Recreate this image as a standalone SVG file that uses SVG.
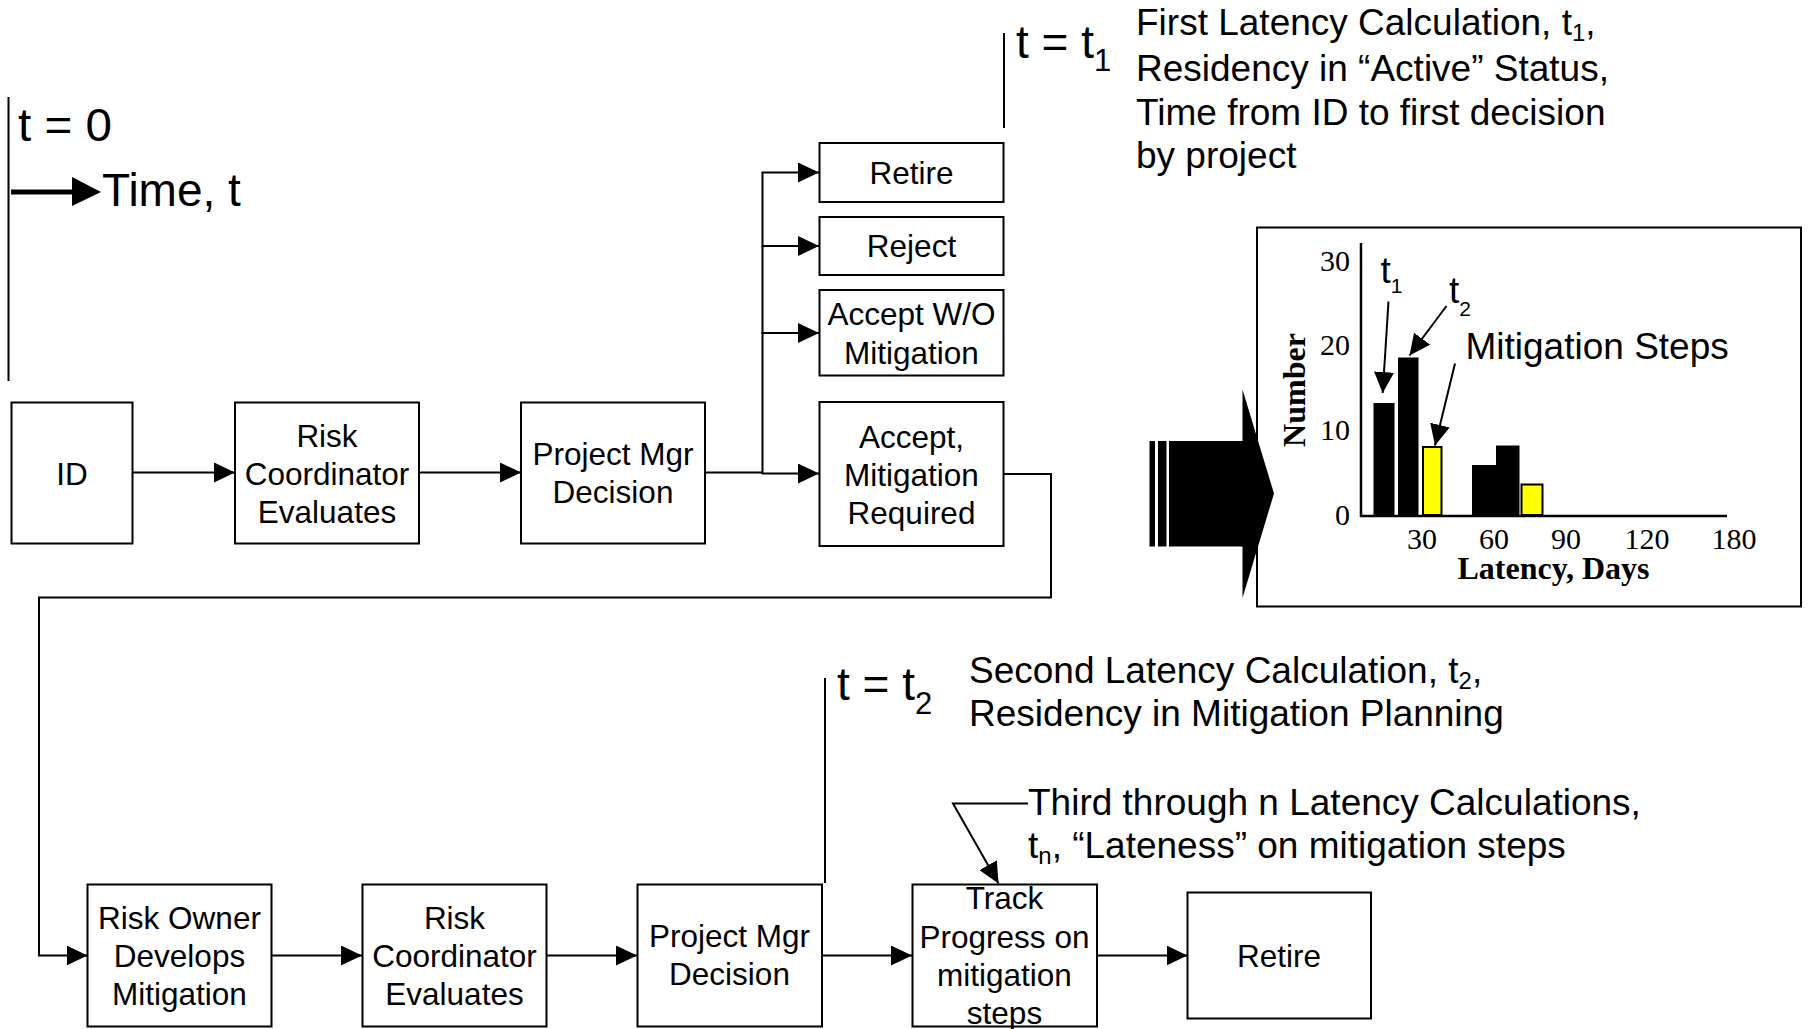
<svg xmlns="http://www.w3.org/2000/svg" width="1808" height="1029" viewBox="0 0 1808 1029">
<defs>
<style>
.box{fill:#fff;stroke:#000;stroke-width:2}
.lbl{font-family:"Liberation Sans",Arial,sans-serif;font-size:31.5px;text-anchor:middle;fill:#000}
.conn{fill:none;stroke:#000;stroke-width:2}
.tl{fill:none;stroke:#000;stroke-width:2}
.ann{font-family:"Liberation Sans",Arial,sans-serif;font-size:37px;fill:#000}
.big{font-family:"Liberation Sans",Arial,sans-serif;font-size:46px;fill:#000}
.ser{font-family:"Liberation Serif","Times New Roman",serif;font-size:30px;fill:#000}
.serb{font-family:"Liberation Serif","Times New Roman",serif;font-size:32px;font-weight:bold;fill:#000}
.bar{fill:#000;stroke:#000;stroke-width:1}
.ybar{fill:#ffff00;stroke:#000;stroke-width:2}
</style>
<marker id="ah" markerUnits="userSpaceOnUse" markerWidth="22" markerHeight="20" refX="21" refY="10" orient="auto">
<path d="M0,0 L21,10 L0,20 z" fill="#000"/>
</marker>
</defs>
<rect width="1808" height="1029" fill="#fff"/>

<!-- time markers -->
<g id="time-zero">
<line class="tl" x1="8.5" y1="97" x2="8.5" y2="381"/>
<text class="big" x="18" y="141" font-size="43" textLength="94" lengthAdjust="spacingAndGlyphs">t = 0</text>
<line x1="11" y1="192" x2="74" y2="192" stroke="#000" stroke-width="5"/>
<polygon points="72,177 101,192 72,206" fill="#000"/>
<text class="big" x="102" y="206" font-size="48.5">Time, t</text>
</g>

<g id="time-t1">
<line class="tl" x1="1004" y1="33" x2="1004" y2="128"/>
<text class="big" x="1016" y="58">t = t<tspan dy="12.7" font-size="31">1</tspan></text>
<text class="ann" x="1136" y="35">First Latency Calculation, t<tspan font-size="24" dy="6">1</tspan><tspan dy="-6">,</tspan></text>
<text class="ann" x="1136" y="80.5">Residency in “Active” Status,</text>
<text class="ann" x="1136" y="124.5">Time from ID to first decision</text>
<text class="ann" x="1136" y="168">by project</text>
</g>

<g id="time-t2">
<line class="tl" x1="825" y1="678" x2="825" y2="883"/>
<text class="big" x="837" y="700">t = t<tspan dy="14" font-size="31">2</tspan></text>
<text class="ann" x="969" y="682.5">Second Latency Calculation, t<tspan font-size="24" dy="6">2</tspan><tspan dy="-6">,</tspan></text>
<text class="ann" x="969" y="726">Residency in Mitigation Planning</text>
</g>

<g id="time-tn">
<text class="ann" x="1028" y="815">Third through n Latency Calculations,</text>
<text class="ann" x="1028" y="858">t<tspan font-size="24" dy="6">n</tspan><tspan dy="-6">, “Lateness” on mitigation steps</tspan></text>
</g>

<!-- connectors -->
<g id="connectors">
<line class="conn" x1="133" y1="472.5" x2="235" y2="472.5" marker-end="url(#ah)"/>
<line class="conn" x1="419" y1="472.5" x2="521" y2="472.5" marker-end="url(#ah)"/>
<polyline class="conn" points="705,472.5 762.5,472.5"/>
<line class="conn" x1="762.5" y1="172" x2="762.5" y2="474"/>
<line class="conn" x1="761.5" y1="172.5" x2="819" y2="172.5" marker-end="url(#ah)"/>
<line class="conn" x1="761.5" y1="246" x2="819" y2="246" marker-end="url(#ah)"/>
<line class="conn" x1="761.5" y1="333" x2="819" y2="333" marker-end="url(#ah)"/>
<line class="conn" x1="761.5" y1="473.5" x2="819" y2="473.5" marker-end="url(#ah)"/>
<polyline class="conn" points="1004,474 1051,474 1051,597.5 39,597.5 39,955.5 87.5,955.5" marker-end="url(#ah)"/>
<line class="conn" x1="272" y1="955.5" x2="362" y2="955.5" marker-end="url(#ah)"/>
<line class="conn" x1="547" y1="955.5" x2="637" y2="955.5" marker-end="url(#ah)"/>
<line class="conn" x1="822" y1="955.5" x2="912" y2="955.5" marker-end="url(#ah)"/>
<line class="conn" x1="1097" y1="955.5" x2="1187.5" y2="955.5" marker-end="url(#ah)"/>
<polyline class="conn" points="1028,803.5 953,803.5 998.5,883.5" marker-end="url(#ah)"/>
</g>

<!-- top row nodes -->
<g id="n-id"><rect class="box" x="11.5" y="402.5" width="121" height="141"/><text class="lbl" x="72" y="484.5">ID</text></g>
<g id="n-rc1"><rect class="box" x="235" y="402.5" width="184" height="141"/>
<text class="lbl" x="327" y="447">Risk</text><text class="lbl" x="327" y="485">Coordinator</text><text class="lbl" x="327" y="522.5">Evaluates</text></g>
<g id="n-pm1"><rect class="box" x="521" y="402.5" width="184" height="141"/>
<text class="lbl" x="613" y="465">Project Mgr</text><text class="lbl" x="613" y="503">Decision</text></g>
<g id="n-retire1"><rect class="box" x="819.5" y="143" width="184" height="59"/><text class="lbl" x="911.5" y="184">Retire</text></g>
<g id="n-reject"><rect class="box" x="819.5" y="217" width="184" height="58"/><text class="lbl" x="911.5" y="257">Reject</text></g>
<g id="n-acceptwo"><rect class="box" x="819.5" y="290" width="184" height="85.5"/>
<text class="lbl" x="911.5" y="325">Accept W/O</text><text class="lbl" x="911.5" y="363.5">Mitigation</text></g>
<g id="n-acceptmit"><rect class="box" x="819.5" y="402" width="184" height="144"/>
<text class="lbl" x="911.5" y="448">Accept,</text><text class="lbl" x="911.5" y="486">Mitigation</text><text class="lbl" x="911.5" y="524">Required</text></g>

<!-- bottom row nodes -->
<g id="n-owner"><rect class="box" x="87.5" y="884.5" width="184" height="142"/>
<text class="lbl" x="179.5" y="928.5">Risk Owner</text><text class="lbl" x="179.5" y="966.5">Develops</text><text class="lbl" x="179.5" y="1005">Mitigation</text></g>
<g id="n-rc2"><rect class="box" x="362.5" y="884.5" width="184" height="142"/>
<text class="lbl" x="454.5" y="928.5">Risk</text><text class="lbl" x="454.5" y="966.5">Coordinator</text><text class="lbl" x="454.5" y="1005">Evaluates</text></g>
<g id="n-pm2"><rect class="box" x="637.5" y="884.5" width="184.5" height="142"/>
<text class="lbl" x="729.5" y="946.5">Project Mgr</text><text class="lbl" x="729.5" y="985">Decision</text></g>
<g id="n-track"><rect class="box" x="912.5" y="884.5" width="184.5" height="142"/>
<text class="lbl" x="1004.5" y="909">Track</text><text class="lbl" x="1004.5" y="947.5">Progress on</text><text class="lbl" x="1004.5" y="986">mitigation</text><text class="lbl" x="1004.5" y="1023.5">steps</text></g>
<g id="n-retire2"><rect class="box" x="1187.5" y="892.5" width="183.5" height="126"/><text class="lbl" x="1279" y="967">Retire</text></g>

<!-- chart -->
<g id="chart">
<rect x="1257" y="227.5" width="544" height="379" fill="#fff" stroke="#000" stroke-width="2"/>
<line x1="1361" y1="243" x2="1361" y2="517" stroke="#000" stroke-width="2.5"/>
<line x1="1360" y1="516" x2="1727" y2="516" stroke="#000" stroke-width="2.5"/>
<rect class="bar" x="1374" y="403.5" width="20" height="112"/>
<rect class="bar" x="1398.5" y="358" width="19.5" height="157.5"/>
<rect class="ybar" x="1423" y="447" width="18.5" height="68"/>
<rect class="bar" x="1472.5" y="465.5" width="23" height="50"/>
<rect class="bar" x="1496.5" y="446" width="22.5" height="69.5"/>
<rect class="ybar" x="1521.5" y="484.5" width="21" height="30.5"/>
<text class="ser" x="1350" y="271" text-anchor="end">30</text>
<text class="ser" x="1350" y="354.5" text-anchor="end">20</text>
<text class="ser" x="1350" y="440" text-anchor="end">10</text>
<text class="ser" x="1350" y="525" text-anchor="end">0</text>
<text class="ser" x="1422" y="549" text-anchor="middle">30</text>
<text class="ser" x="1494" y="549" text-anchor="middle">60</text>
<text class="ser" x="1566" y="549" text-anchor="middle">90</text>
<text class="ser" x="1647" y="549" text-anchor="middle">120</text>
<text class="ser" x="1734" y="549" text-anchor="middle">180</text>
<text class="serb" x="1553.5" y="579" text-anchor="middle">Latency, Days</text>
<text class="serb" x="1305" y="390" text-anchor="middle" font-size="31" transform="rotate(-90 1305 390)">Number</text>
<text class="ann" x="1380.5" y="283" font-size="32">t<tspan dy="10" font-size="21">1</tspan></text>
<text class="ann" x="1449" y="302.5" font-size="32">t<tspan dy="13" font-size="21">2</tspan></text>
<text class="ann" x="1465.5" y="359">Mitigation Steps</text>
<line class="conn" x1="1388.5" y1="301.5" x2="1382.7" y2="393" marker-end="url(#ah)"/>
<line class="conn" x1="1446.5" y1="306" x2="1409.5" y2="355.5" marker-end="url(#ah)"/>
<line class="conn" x1="1455" y1="363.5" x2="1435" y2="445.5" marker-end="url(#ah)"/>
</g>

<g id="big-arrow">
<rect x="1149.5" y="441" width="5.5" height="105.5" fill="#000"/>
<rect x="1158" y="441" width="8.5" height="105.5" fill="#000"/>
<polygon points="1169,441 1242.5,441 1242.5,389.5 1274,493.5 1242.5,598 1242.5,546.5 1169,546.5" fill="#000"/>
</g>
</svg>
